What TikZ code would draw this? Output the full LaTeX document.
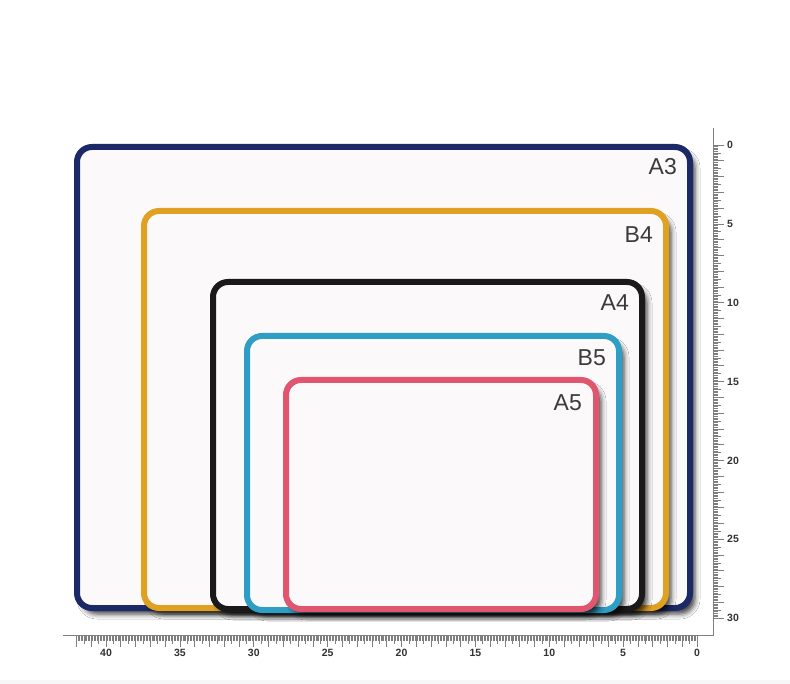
\documentclass[tikz,border=0pt]{standalone}
\usepackage{fontspec}
\setmainfont{Liberation Sans}
\usetikzlibrary{shadows.blur}
\definecolor{a3c}{HTML}{1B2A66}
\definecolor{b4c}{HTML}{E0A122}
\definecolor{a4c}{HTML}{1A1A1A}
\definecolor{b5c}{HTML}{2E9EC4}
\definecolor{a5c}{HTML}{E0566E}
\definecolor{paper}{HTML}{FCF9FA}
\definecolor{tickc}{HTML}{7F7F7F}
\definecolor{lbl}{HTML}{3A3A3A}
\begin{document}
\begin{tikzpicture}[x=1pt,y=-1pt,
 frame/.style={draw, line width=6pt, fill=paper, rounded corners=15pt, inner sep=0pt, outer sep=0pt,
   blur shadow={shadow xshift=5pt, shadow yshift=-6pt, shadow blur radius=5pt, shadow opacity=75}},
 sizelbl/.style={anchor=base east, font=\fontsize{23}{23}\selectfont, text=lbl, inner sep=0pt},
 num/.style={font=\bfseries\fontsize{10.5}{10.5}\selectfont, text=black!80, inner sep=0pt},
 rulerline/.style={draw=tickc, line width=0.8pt},
 tickline/.style={draw=tickc, line width=0.6pt}]
\useasboundingbox (0,0) rectangle (790,684);
\fill[white] (0,0) rectangle (790,684);
\fill[black!3] (0,680) rectangle (790,684);

% frames
\node[frame, draw=a3c, minimum width=613pt, minimum height=461pt] (A3) at (383.5,377.5) {};
\node[frame, draw=b4c, minimum width=522pt, minimum height=397pt] (B4) at (405,409.5) {};
\node[frame, draw=a4c, minimum width=429pt, minimum height=327pt] (A4) at (427.5,445.5) {};
\node[frame, draw=b5c, minimum width=372pt, minimum height=274pt] (B5) at (433,473) {};
\node[frame, draw=a5c, minimum width=310pt, minimum height=229pt] (A5) at (441,494.5) {};

% labels
\node[sizelbl] (lA3) at (677,175) {A3};
\node[sizelbl] (lB4) at (653,243) {B4};
\node[sizelbl] (lA4) at (629,311) {A4};
\node[sizelbl] (lB5) at (606,366) {B5};
\node[sizelbl] (lA5) at (582,410) {A5};

% rulers
\coordinate (rtop) at (713,128);
\coordinate (rcorner) at (713,635);
\coordinate (rleft) at (63,635);
\draw[rulerline] (rtop) -- (rcorner) -- (rleft);
\foreach \i in {0,...,420}{
  \pgfmathsetmacro\xx{697-\i*1.4775}
  \pgfmathtruncatemacro\ma{mod(\i,10)}
  \pgfmathtruncatemacro\mb{mod(\i,5)}
  \ifnum\ma=0 \def\len{12}\else\ifnum\mb=0 \def\len{9}\else\def\len{6}\fi\fi
  \draw[tickline] (\xx,635) -- ++(0,\len);
}
\foreach \i in {0,...,300}{
  \pgfmathsetmacro\yy{145+\i*1.577}
  \pgfmathtruncatemacro\ma{mod(\i,10)}
  \pgfmathtruncatemacro\mb{mod(\i,5)}
  \ifnum\ma=0 \def\len{11}\else\ifnum\mb=0 \def\len{8}\else\def\len{5}\fi\fi
  \draw[tickline] (713,\yy) -- ++(\len,0);
}
\foreach \k in {0,5,...,40}{
  \node[num] (h\k) at ({697-\k*14.775},653) {\k};
}
\foreach \k in {0,5,...,30}{
  \node[num, anchor=west] (v\k) at (727,{145+\k*15.77}) {\k};
}
\end{tikzpicture}
\end{document}
